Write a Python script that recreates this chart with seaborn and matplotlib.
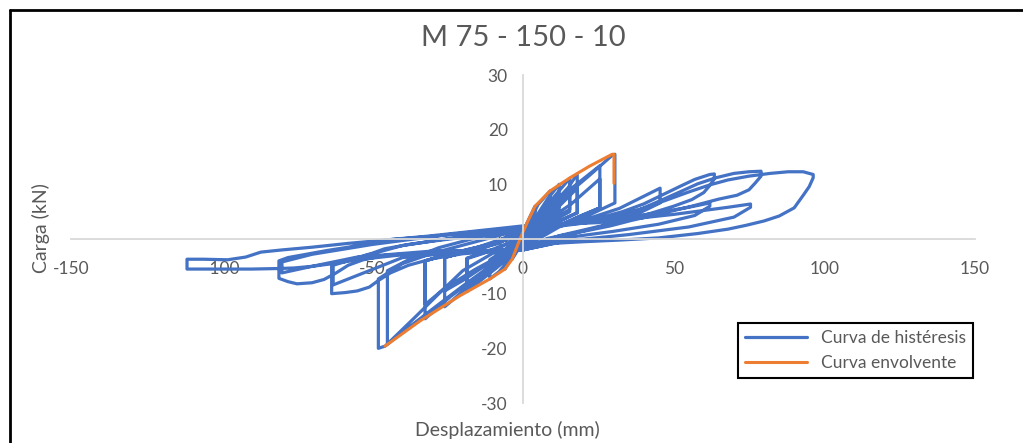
import matplotlib
matplotlib.use('Agg')
import matplotlib.pyplot as plt
import seaborn as sns
import numpy as np
from matplotlib.lines import Line2D

# ciclos de la curva de histéresis (desplazamiento mm, carga kN)
desp_c1 = [0, 1.3, 4, 4, 2.5, 0.5, -1.5, -3.6, -3.6, -2, 0]
carga_c1 = [0, 2.9, 6.0, 4.6, 2.8, 0.6, -1.8, -3.7, -2.6, -1.0, 0.8]

desp_c2 = [2, 5, 9, 9, 6, 3, 0, -3, -6, -6, -3.5, -1, 1]
carga_c2 = [3.0, 6.3, 8.8, 6.4, 4.2, 2.2, -0.4, -2.8, -5.5, -3.8, -1.8, 0.4, 1.6]
desp_c2b = [3, 6, 9, 9, 5, 0, -3, -6, -6, -3, 0]
carga_c2b = [2.8, 5.0, 7.0, 5.6, 2.6, -0.8, -2.6, -4.8, -3.4, -1.2, 1.2]

desp_c3 = [4, 8, 12, 12, 8, 4, 0, -4, -8, -11, -11, -7, -3, 0]
carga_c3 = [3.8, 7.2, 10.0, 6.0, 3.8, 1.8, -0.8, -3.5, -6.0, -7.3, -4.2, -2.4, -0.5, 1.2]
desp_c3b = [4, 8, 12, 12, 7, 2, -3, -7, -11, -11, -6, -2, 1]
carga_c3b = [3.0, 5.6, 8.0, 5.4, 3.0, 0.6, -2.4, -4.2, -6.2, -3.8, -2.0, -0.4, 1.4]

desp_c4 = [4, 8, 12, 15.5, 15.5, 10, 5, 0, -5, -10, -15, -18.6, -18.6, -13, -7, -2, 1]
carga_c4 = [3.4, 6.2, 8.8, 11.1, 5.4, 3.6, 1.6, -1.0, -3.6, -5.8, -8.0, -9.6, -3.6, -2.6, -1.4, 0.2, 1.6]
desp_c4b = [5, 10, 15.5, 15.5, 9, 3, -4, -10, -15, -18.6, -18.6, -12, -5, 1]
carga_c4b = [3.0, 6.0, 9.4, 5.0, 3.0, 0.8, -2.6, -4.8, -6.8, -8.2, -3.5, -2.3, -0.8, 1.6]

desp_c5 = [5, 10, 15, 18, 18, 12, 6, 0, -6, -12, -18, -23, -26, -26, -20, -12, -5, 1]
carga_c5 = [3.4, 6.4, 9.4, 11.9, 4.8, 3.2, 1.6, -1.2, -3.6, -6.0, -8.6, -11.0, -12.4, -3.4, -2.5, -1.4, 0.0, 1.8]
desp_c5b = [6, 12, 18, 18, 10, 2, -6, -14, -20, -26, -26, -18, -8, 1]
carga_c5b = [3.2, 6.0, 9.3, 4.8, 2.8, 0.4, -2.8, -5.4, -7.6, -9.5, -3.4, -2.2, -0.8, 1.8]

desp_c6 = [5, 10, 15, 20, 25.5, 25.5, 18, 10, 0, -8, -16, -24, -30, -32.5, -32.5, -25, -15, -6, 1]
carga_c6 = [3.2, 6.0, 8.8, 11.0, 13.4, 5.7, 4.0, 2.0, -1.4, -4.2, -7.2, -10.5, -13.4, -14.6, -4.0, -2.8, -1.5, 0.2, 1.9]
desp_c6b = [8, 16, 25.5, 25.5, 16, 6, -6, -16, -26, -32.5, -32.5, -22, -10, 1]
carga_c6b = [3.4, 6.4, 11.0, 5.7, 3.4, 1.0, -2.6, -5.6, -9.0, -12.0, -4.0, -2.4, -0.8, 2.0]

desp_c7 = [5, 10, 16, 22, 29.6, 30.5, 30.5, 22, 12, 0, -10, -20, -30, -38, -45.8, -48, -48, -40, -30, -15, 0]
carga_c7 = [3.0, 5.8, 8.8, 11.6, 15.3, 15.5, 6.6, 4.4, 2.2, -1.6, -4.6, -8.6, -12.8, -16.2, -19.6, -20.0, -7.3, -4.5, -2.6, -0.4, 1.8]

desp_c8 = [10, 22, 32, 40, 45.5, 45.5, 38, 26, 12, 0, -10, -20, -27, -36, -45, -45, -38, -28, -15, 0]
carga_c8 = [2.2, 3.8, 5.6, 7.8, 9.3, 6.6, 4.6, 2.4, 0.6, -1.8, -2.6, -5.8, -9.5, -14.4, -19.2, -5.8, -3.8, -1.6, 0.3, 2.0]

desp_c9 = [8, 16, 25, 33, 40, 46, 52, 57, 62, 63.5, 63.5, 62, 60, 56, 50, 43, 35, 26, 18, 8, 0,
           -10, -20, -30, -38, -44, -48, -51, -55, -59, -63.5, -63.5, -59, -55, -50, -46, -38, -30, -20, -10, 0]
carga_c9 = [2.0, 2.8, 3.8, 5.0, 6.4, 8.0, 9.6, 10.9, 11.8, 11.9, 11.0, 9.8, 8.5, 7.2, 6.0, 4.8, 3.5, 2.3, 1.2, 0.1, -2.0,
            -2.3, -2.7, -3.6, -4.8, -6.2, -7.6, -8.8, -9.5, -9.8, -10.0, -4.6, -4.0, -3.4, -2.6, -1.8, -1.0, -0.4, 0.3, 1.0, 2.2]

desp_c10 = [20, 40, 55, 62, 62, 57, 45, 30, 15, 0, -20, -40, -52, -63, -63, -52, -40, -20, 0]
carga_c10 = [3.0, 4.4, 5.8, 6.6, 6.0, 4.3, 2.7, 1.4, 0.3, -2.0, -2.4, -3.4, -6.0, -8.4, -4.8, -3.0, -1.2, 0.5, 2.2]

desp_c11 = [10, 20, 30, 38, 45.5, 52, 58, 64, 70, 75, 79, 79, 77, 75, 71, 65, 56, 45.5, 36, 29, 20, 12, 0,
            -10, -25, -38, -46, -53, -58, -62, -66, -70, -75, -78, -81, -81, -78, -72, -65, -58, -46, -32, -20, -10, 0]
carga_c11 = [2.2, 2.9, 3.8, 5.2, 7.0, 8.6, 10.1, 11.2, 12.0, 12.3, 12.4, 11.5, 10.2, 9.0, 8.0, 7.3, 6.0, 4.6, 3.4, 2.4, 1.4, 0.5, -2.0,
             -2.1, -2.4, -2.7, -3.0, -3.8, -4.8, -6.2, -7.4, -8.0, -8.2, -7.8, -7.2, -4.0, -3.4, -2.8, -2.1, -1.5, -0.2, 0.5, 1.2, 1.8, 2.4]

desp_c12 = [25, 50, 68, 75.5, 75.5, 70, 55, 35, 15, 0, -30, -55, -70, -80, -80, -70, -50, -25, 0]
carga_c12 = [3.0, 4.5, 5.8, 6.4, 5.8, 4.0, 2.2, 0.8, -0.3, -2.0, -2.2, -3.3, -5.0, -6.2, -4.2, -2.8, -1.0, 0.8, 2.2]

desp_c13 = [10, 20, 30, 40, 48, 55, 62, 68, 75, 82, 88, 93, 96.3, 96.3, 95, 93, 90, 85, 80, 74, 68, 58, 45, 32, 20, 10, 0,
            -10, -20, -30, -42, -55, -63, -70, -76, -81, -90, -100, -111.5, -111.5, -106, -98, -92, -87, -80, -70, -58, -46, -32, -20, -10, 0]
carga_c13 = [2.4, 3.1, 4.2, 5.6, 7.2, 8.6, 9.9, 10.8, 11.5, 12.0, 12.3, 12.3, 11.8, 11.2, 9.6, 8.0, 5.7, 4.2, 3.3, 2.5, 1.8, 1.0, 0.2, -0.2, -0.5, -0.8, -2.0,
             -2.1, -2.2, -2.4, -3.0, -3.8, -4.5, -5.0, -5.3, -5.4, -5.5, -5.5, -5.5, -3.7, -3.7, -3.8, -3.3, -2.4, -2.0, -1.5, -0.8, -0.2, 0.4, 1.0, 1.5, 2.0]

# curva envolvente
env_desp = [-45.8, -34.2, -21, -11, -6, -3.6, -1, 1.3, 4, 9, 15.6, 22, 29.6, 30.2, 30.2]
env_carga = [-19.6, -15.0, -10.4, -7.3, -5.5, -3.7, 0, 2.9, 6.0, 8.8, 11.2, 13.3, 15.5, 15.5, 10.2]

xticks = [-150, -100, -50, 0, 50, 100, 150]
yticks = [-30, -20, -10, 0, 10, 20, 30]

sns.set_style('white')
plt.rcParams['font.family'] = ['Lato', 'DejaVu Sans']
plt.rcParams['axes.unicode_minus'] = False

fig = plt.figure(figsize=(10.23, 4.43), dpi=100)
ax = fig.add_axes([71/1023, 1-403/443, 904/1023, 328/443])

desp = np.concatenate([desp_c1, desp_c2, desp_c2b, desp_c3, desp_c3b, desp_c4, desp_c4b,
                       desp_c5, desp_c5b, desp_c6, desp_c6b, desp_c7, desp_c8, desp_c9,
                       desp_c10, desp_c11, desp_c12, desp_c13])
carga = np.concatenate([carga_c1, carga_c2, carga_c2b, carga_c3, carga_c3b, carga_c4, carga_c4b,
                        carga_c5, carga_c5b, carga_c6, carga_c6b, carga_c7, carga_c8, carga_c9,
                        carga_c10, carga_c11, carga_c12, carga_c13])

sns.lineplot(x=desp, y=carga, sort=False, estimator=None, color='#4472C4', lw=2.3,
             ax=ax, label='Curva de histéresis')
sns.lineplot(x=env_desp, y=env_carga, sort=False, estimator=None, color='#ED7D31', lw=2.2,
             ax=ax, label='Curva envolvente')

ax.set_xlim(-150, 150)
ax.set_ylim(-30, 30)
ax.set_xticks(xticks)
ax.set_yticks(yticks)
for s in ['top', 'right']:
    ax.spines[s].set_visible(False)
for s in ['left', 'bottom']:
    ax.spines[s].set_position(('data', 0))
    ax.spines[s].set_color('#d9d9d9')
    ax.spines[s].set_linewidth(1.3)
ax.tick_params(length=0, labelsize=12.5, colors='#595959')
ax.tick_params(axis='x', pad=16)
ax.tick_params(axis='y', pad=11)

ax.set_xlabel('Desplazamiento (mm)', fontsize=14, color='#595959')
ax.xaxis.set_label_coords(0.483, -0.055)
ax.set_ylabel('Carga (kN)', fontsize=14, color='#595959')
ax.yaxis.set_label_coords(-0.023, 0.534)

fig.text(523/1023, 1-38/443, 'M 75 - 150 - 10', ha='center', va='center',
         fontsize=21, color='#595959')

leg = ax.legend(loc='upper left', bbox_to_anchor=(738/1023, 1-323/443),
                bbox_transform=fig.transFigure, frameon=True, fancybox=False,
                edgecolor='black', framealpha=1, borderaxespad=0, handlelength=3.6,
                fontsize=12.5, labelcolor='#595959')
leg.get_frame().set_linewidth(1.5)

# marco exterior
fig.add_artist(Line2D([10/1023, 10/1023], [0, 1-10/443], color='black', lw=2,
                      transform=fig.transFigure))
fig.add_artist(Line2D([10/1023, 1], [1-10/443, 1-10/443], color='black', lw=2,
                      transform=fig.transFigure))

fig.savefig('out.png', dpi=100)
